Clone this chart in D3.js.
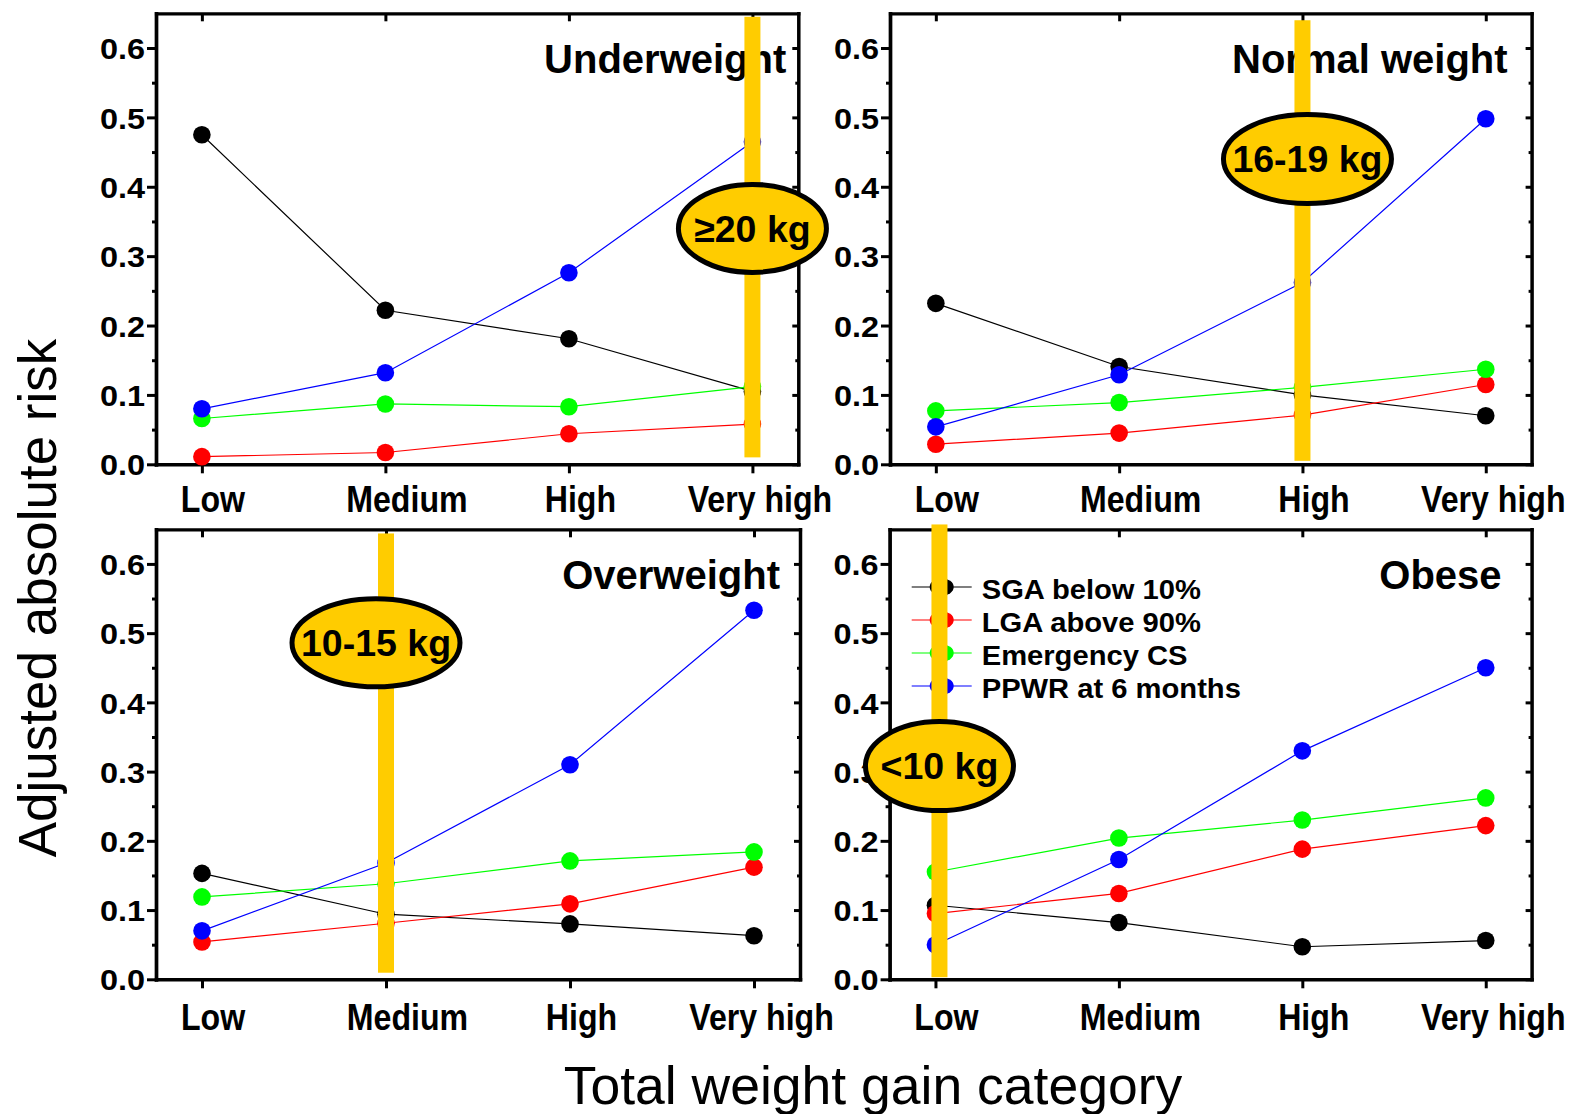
<!DOCTYPE html>
<html>
<head>
<meta charset="utf-8">
<script src="https://cdn.jsdelivr.net/npm/d3@7"></script>
<style>
  html, body { margin: 0; padding: 0; background: #fff; }
  svg { display: block; }
  text { font-family: "Liberation Sans", Arial, Helvetica, sans-serif; }
</style>
</head>
<body>
<svg id="chart" width="1578" height="1114"></svg>
<script>
// ---- data ----------------------------------------------------------------
const categories = ["Low", "Medium", "High", "Very high"];
const panelNames = ["Underweight", "Normal weight", "Overweight", "Obese"];
const seriesNames = ["SGA below 10%", "LGA above 90%", "Emergency CS", "PPWR at 6 months"];
const seriesColors = ["#000000", "#ff0000", "#00ff00", "#0000ff"];

// adjusted absolute risk by total weight gain category (Low..Very high)
const underweightSGA  = [0.475, 0.222, 0.181, 0.105];
const underweightLGA  = [0.011, 0.017, 0.044, 0.058];
const underweightCS   = [0.066, 0.087, 0.083, 0.112];
const underweightPPWR = [0.080, 0.132, 0.276, 0.465];

const normalSGA  = [0.232, 0.141, 0.100, 0.070];
const normalLGA  = [0.029, 0.045, 0.071, 0.115];
const normalCS   = [0.077, 0.089, 0.111, 0.137];
const normalPPWR = [0.054, 0.129, 0.262, 0.498];

const overweightSGA  = [0.153, 0.094, 0.080, 0.063];
const overweightLGA  = [0.054, 0.081, 0.109, 0.162];
const overweightCS   = [0.119, 0.138, 0.171, 0.184];
const overweightPPWR = [0.070, 0.168, 0.310, 0.533];

const obeseSGA  = [0.107, 0.082, 0.047, 0.056];
const obeseLGA  = [0.095, 0.124, 0.188, 0.222];
const obeseCS   = [0.155, 0.204, 0.230, 0.262];
const obesePPWR = [0.050, 0.173, 0.330, 0.450];

// recommended total gain per BMI group and the category it falls in
const recommendedLabels = ["\u226520 kg", "16-19 kg", "10-15 kg", "<10 kg"];
const recommendedCategory = ["Very high", "High", "Medium", "Low"];

const yTicks = [0, 0.1, 0.2, 0.3, 0.4, 0.5, 0.6];
const yMinorTicks = [0.05, 0.15, 0.25, 0.35, 0.45, 0.55];

const panelSeries = [
  [underweightSGA, underweightLGA, underweightCS, underweightPPWR],
  [normalSGA, normalLGA, normalCS, normalPPWR],
  [overweightSGA, overweightLGA, overweightCS, overweightPPWR],
  [obeseSGA, obeseLGA, obeseCS, obesePPWR]
];

// ---- layout --------------------------------------------------------------
const panelLayout = [
  { x0: 156,   x1: 798.3,  y0: 13.3,  y1: 464.3, titleInset: 12, barDx: 0, bar: [0.010, 0.645], ellDx: 0,   ellV: 0.340, rx: 74, ry: 44 },
  { x0: 890,   x1: 1531.6, y0: 13.3,  y1: 464.3, titleInset: 24, barDx: 0, bar: [0.005, 0.640], ellDx: 5,   ellV: 0.440, rx: 84, ry: 44.5 },
  { x0: 156,   x1: 800,    y0: 529.3, y1: 979.3, titleInset: 20, barDx: 0, bar: [0.0095, 0.644], ellDx: -10, ellV: 0.486, rx: 84, ry: 44 },
  { x0: 889.6, x1: 1531.6, y0: 529.3, y1: 979.3, titleInset: 30, barDx: 4, bar: [0.003, 0.657], ellDx: 4,   ellV: 0.308, rx: 74, ry: 44.5 }
];
const tickLabelShift = [10.5, 21, 11, 7];
const yDomain = [0, 0.65];
const gold = "#ffcc00";

const svg = d3.select("#chart");

function styleAxis(g, width) {
  g.attr("font-size", null).attr("font-family", null);
  g.select(".domain").attr("stroke", "#000").attr("stroke-width", width).attr("stroke-linecap", "square");
  g.selectAll(".tick line").attr("stroke", "#000").attr("stroke-width", 3);
}

panelLayout.forEach((L, p) => {
  const x = d3.scalePoint().domain(categories).range([L.x0, L.x1]).padding(0.25);
  const y = d3.scaleLinear().domain(yDomain).range([L.y1, L.y0]);
  const g = svg.append("g");

  // frame: top and right borders with inward ticks
  const top = g.append("g").attr("transform", `translate(0,${L.y0})`)
    .call(d3.axisBottom(x).tickSize(8).tickSizeOuter(0).tickFormat(""));
  styleAxis(top, 3.2);
  const right = g.append("g").attr("transform", `translate(${L.x1},0)`)
    .call(d3.axisLeft(y).tickValues(yTicks).tickSize(6).tickSizeOuter(0).tickFormat(""));
  styleAxis(right, 3.5);
  const rightMinor = g.append("g").attr("transform", `translate(${L.x1},0)`)
    .call(d3.axisLeft(y).tickValues(yMinorTicks).tickSize(3).tickFormat(""));
  rightMinor.select(".domain").remove();
  styleAxis(rightMinor, 3);

  // left value axis
  const left = g.append("g").attr("transform", `translate(${L.x0},0)`)
    .call(d3.axisLeft(y).tickValues(yTicks).tickSize(9).tickSizeOuter(0).tickFormat(d3.format(".1f")));
  styleAxis(left, 3.7);
  left.selectAll(".tick text")
    .attr("x", -10).attr("dy", "0.36em")
    .attr("transform", "scale(1.1,1)")
    .attr("font-size", 29.5).attr("font-weight", "bold").attr("fill", "#000");
  const leftMinor = g.append("g").attr("transform", `translate(${L.x0},0)`)
    .call(d3.axisLeft(y).tickValues(yMinorTicks).tickSize(4).tickFormat(""));
  leftMinor.select(".domain").remove();
  styleAxis(leftMinor, 3);

  // bottom category axis
  const bottom = g.append("g").attr("transform", `translate(0,${L.y1})`)
    .call(d3.axisBottom(x).tickSize(9).tickSizeOuter(0));
  styleAxis(bottom, 3.5);
  bottom.selectAll(".tick text")
    .attr("x", (d, i) => tickLabelShift[i] / 0.88)
    .attr("y", p < 2 ? 47.5 : 50.5).attr("dy", 0)
    .attr("transform", "scale(0.88,1)")
    .attr("font-size", 36.5).attr("font-weight", "bold").attr("fill", "#000");

  // series lines and points
  panelSeries[p].forEach((vals, s) => {
    const line = d3.line().x((d, i) => x(categories[i])).y(d => y(d));
    g.append("path").datum(vals)
      .attr("d", line).attr("fill", "none")
      .attr("stroke", seriesColors[s]).attr("stroke-width", 1.2);
    g.selectAll(null).data(vals).enter().append("circle")
      .attr("cx", (d, i) => x(categories[i])).attr("cy", d => y(d))
      .attr("r", 8.8).attr("fill", seriesColors[s]);
  });

  // panel title
  g.append("text")
    .attr("x", L.x1 - L.titleInset).attr("y", L.y0 + 59.5)
    .attr("text-anchor", "end").attr("font-size", 40).attr("font-weight", "bold")
    .text(panelNames[p]);

  // legend (obese panel)
  if (p === 3) {
    const leg = g.append("g");
    seriesNames.forEach((name, s) => {
      const cy = 587 + s * 33;
      leg.append("line").attr("x1", 911.7).attr("x2", 971.7).attr("y1", cy).attr("y2", cy)
        .attr("stroke", seriesColors[s]).attr("stroke-width", 1.2);
      leg.append("ellipse").attr("cx", 941.7).attr("cy", cy).attr("rx", 12).attr("ry", 8.7)
        .attr("fill", seriesColors[s]);
      leg.append("text")
        .attr("transform", `translate(981.7,${cy + 11.8}) scale(1.08,1)`)
        .attr("font-size", 27).attr("font-weight", "bold").text(name);
    });
  }

  // recommended gain marker
  const cx = x(recommendedCategory[p]);
  g.append("rect")
    .attr("x", cx + L.barDx - 8).attr("width", 16)
    .attr("y", y(L.bar[1])).attr("height", y(L.bar[0]) - y(L.bar[1]))
    .attr("fill", gold);
  const ey = y(L.ellV);
  g.append("ellipse")
    .attr("cx", cx + L.ellDx).attr("cy", ey).attr("rx", L.rx).attr("ry", L.ry)
    .attr("fill", gold).attr("stroke", "#000").attr("stroke-width", 5);
  g.append("text")
    .attr("x", cx + L.ellDx).attr("y", ey + 13.3)
    .attr("text-anchor", "middle").attr("font-size", 37.5).attr("font-weight", "bold")
    .text(recommendedLabels[p]);
});

// shared axis titles
svg.append("text")
  .attr("transform", "translate(56,598) rotate(-90)")
  .attr("text-anchor", "middle").attr("font-size", 53)
  .text("Adjusted absolute risk");
svg.append("text")
  .attr("x", 873).attr("y", 1104)
  .attr("text-anchor", "middle").attr("font-size", 53.5)
  .text("Total weight gain category");
</script>
</body>
</html>
